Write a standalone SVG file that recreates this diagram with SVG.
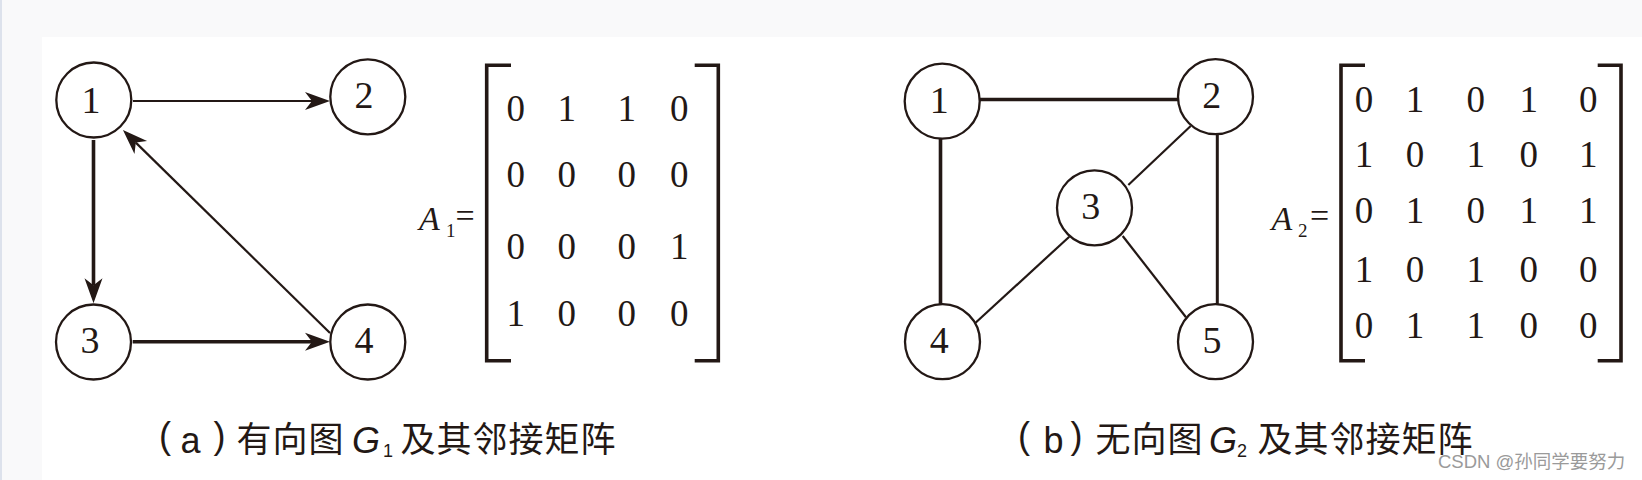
<svg xmlns="http://www.w3.org/2000/svg" width="1642" height="480" viewBox="0 0 1642 480">
<style>
.node circle{fill:#fff;stroke:#231815;stroke-width:2.3}
.node text,.mx text{font-family:"Liberation Serif","Times New Roman",serif;fill:#231815;text-anchor:middle}
.node text{font-size:38px}
.mx text{font-size:37px}
.edge{stroke:#231815;fill:none}
.br{stroke:#231815;stroke-width:3.6;fill:none}
.lab{font-family:"Liberation Serif","Times New Roman",serif;fill:#231815}
.lab .A{font-size:34px;font-style:italic}
.lab .s{font-size:19px}
.lab .eq{font-size:34px}
.cap{font-family:"Liberation Sans",Arial,"Noto Sans CJK SC",sans-serif;font-size:36px;fill:#231815}
.cj{font-family:"Noto Sans CJK SC",sans-serif;font-size:35px;letter-spacing:1px}
.wm{font-family:"Liberation Sans",Arial,"Noto Sans CJK SC",sans-serif;font-size:18.5px;fill:#9a9a9a}
</style>
<defs>
<marker id="ah" markerUnits="userSpaceOnUse" viewBox="-8 -11 27 22" markerWidth="27" markerHeight="22" refX="0" refY="0" orient="auto">
<path d="M18,0 L-7,-9 L0,0 L-7,9 Z" fill="#231815"/>
</marker>
</defs>
<rect x="0" y="0" width="1642" height="480" fill="#f9f9fa"/>
<rect x="42" y="37" width="1600" height="443" fill="#ffffff"/>
<rect x="0" y="0" width="2" height="480" fill="#dde2ec"/>

<g id="connectors">
<line class="edge" x1="133" y1="101" x2="312" y2="101" stroke-width="2.2" marker-end="url(#ah)"/>
<line class="edge" x1="93.5" y1="140" x2="93.5" y2="285.3" stroke-width="3.6" marker-end="url(#ah)"/>
<line class="edge" x1="132.7" y1="341.7" x2="312" y2="341.7" stroke-width="3.6" marker-end="url(#ah)"/>
<line class="edge" x1="330" y1="333" x2="135.8" y2="142.6" stroke-width="2.2" marker-end="url(#ah)"/>
<line class="edge" x1="979" y1="99.5" x2="1178" y2="99.5" stroke-width="3.6"/>
<line class="edge" x1="940.5" y1="139" x2="940.5" y2="305" stroke-width="3.6"/>
<line class="edge" x1="1217.3" y1="134" x2="1217.3" y2="305" stroke-width="3"/>
<line class="edge" x1="1190.7" y1="126" x2="1128.3" y2="185" stroke-width="2.2"/>
<line class="edge" x1="1069.3" y1="236.7" x2="975" y2="323.3" stroke-width="2.2"/>
<line class="edge" x1="1122.7" y1="236" x2="1186" y2="317.3" stroke-width="2.2"/>
</g>

<g id="a-n1" class="node"><circle cx="93.8" cy="100" r="37.5"/><text x="91" y="113.3">1</text></g>
<g id="a-n2" class="node"><circle cx="367.8" cy="96.8" r="37.5"/><text x="364" y="108.3">2</text></g>
<g id="a-n3" class="node"><circle cx="93.5" cy="342" r="37.5"/><text x="90" y="352.7">3</text></g>
<g id="a-n4" class="node"><circle cx="367.8" cy="342" r="37.5"/><text x="364" y="352.7">4</text></g>

<g id="b-n1" class="node"><circle cx="942.2" cy="101.2" r="37.5"/><text x="939.2" y="113.3">1</text></g>
<g id="b-n2" class="node"><circle cx="1215.5" cy="96.7" r="37.5"/><text x="1211.7" y="108.3">2</text></g>
<g id="b-n3" class="node"><circle cx="1094.5" cy="207.8" r="37.5"/><text x="1090.8" y="219.3">3</text></g>
<g id="b-n4" class="node"><circle cx="942.5" cy="341.7" r="37.5"/><text x="939.2" y="353.3">4</text></g>
<g id="b-n5" class="node"><circle cx="1215.5" cy="341.7" r="37.5"/><text x="1212" y="353.3">5</text></g>

<g id="label-a1">
<text class="lab"><tspan class="A" x="419" y="230">A</tspan><tspan class="s" x="446" y="237.3">1</tspan><tspan class="eq" x="455.5" y="227">=</tspan></text>
</g>
<g id="matrix-a1" class="mx">
<path class="br" d="M511,65.3 H486.7 V360.7 H511"/>
<path class="br" d="M694.7,65.3 H718.3 V360.7 H694.7"/>
<text x="515.7" y="121">0</text><text x="566.7" y="121">1</text><text x="626.7" y="121">1</text><text x="679.3" y="121">0</text>
<text x="515.7" y="186.7">0</text><text x="566.7" y="186.7">0</text><text x="626.7" y="186.7">0</text><text x="679.3" y="186.7">0</text>
<text x="515.7" y="259.3">0</text><text x="566.7" y="259.3">0</text><text x="626.7" y="259.3">0</text><text x="679.3" y="259.3">1</text>
<text x="515.7" y="326">1</text><text x="566.7" y="326">0</text><text x="626.7" y="326">0</text><text x="679.3" y="326">0</text>
</g>

<g id="label-a2">
<text class="lab"><tspan class="A" x="1271.5" y="230">A</tspan><tspan class="s" x="1298" y="237.3">2</tspan><tspan class="eq" x="1310" y="227">=</tspan></text>
</g>
<g id="matrix-a2" class="mx">
<path class="br" d="M1365,65.3 H1341 V360.7 H1365"/>
<path class="br" d="M1597.7,65.3 H1621 V360.7 H1597.7"/>
<text x="1364" y="111.7">0</text><text x="1415" y="111.7">1</text><text x="1475.7" y="111.7">0</text><text x="1528.7" y="111.7">1</text><text x="1588.3" y="111.7">0</text>
<text x="1364" y="166.7">1</text><text x="1415" y="166.7">0</text><text x="1475.7" y="166.7">1</text><text x="1528.7" y="166.7">0</text><text x="1588.3" y="166.7">1</text>
<text x="1364" y="222.7">0</text><text x="1415" y="222.7">1</text><text x="1475.7" y="222.7">0</text><text x="1528.7" y="222.7">1</text><text x="1588.3" y="222.7">1</text>
<text x="1364" y="281.7">1</text><text x="1415" y="281.7">0</text><text x="1475.7" y="281.7">1</text><text x="1528.7" y="281.7">0</text><text x="1588.3" y="281.7">0</text>
<text x="1364" y="337.7">0</text><text x="1415" y="337.7">1</text><text x="1475.7" y="337.7">1</text><text x="1528.7" y="337.7">0</text><text x="1588.3" y="337.7">0</text>
</g>

<g id="caption-a">
<text class="cap" y="453"><tspan x="159" y="448">(</tspan><tspan x="180.5" y="453">a</tspan><tspan x="213.5" y="448">)</tspan><tspan class="cj" x="236.5" y="452">有向图</tspan><tspan x="352" y="453" font-style="italic">G</tspan><tspan x="383" y="456.7" font-size="18">1</tspan><tspan class="cj" x="400.5" y="452">及其邻接矩阵</tspan></text>
</g>
<g id="caption-b">
<text class="cap" y="453"><tspan x="1018" y="448">(</tspan><tspan x="1043.5" y="453">b</tspan><tspan x="1070.5" y="448">)</tspan><tspan class="cj" x="1095.5" y="452">无向图</tspan><tspan x="1209" y="453" font-style="italic">G</tspan><tspan x="1237" y="456.7" font-size="18">2</tspan><tspan class="cj" x="1257.5" y="452">及其邻接矩阵</tspan></text>
</g>
<text class="wm" x="1438" y="468">CSDN @孙同学要努力</text>
</svg>
